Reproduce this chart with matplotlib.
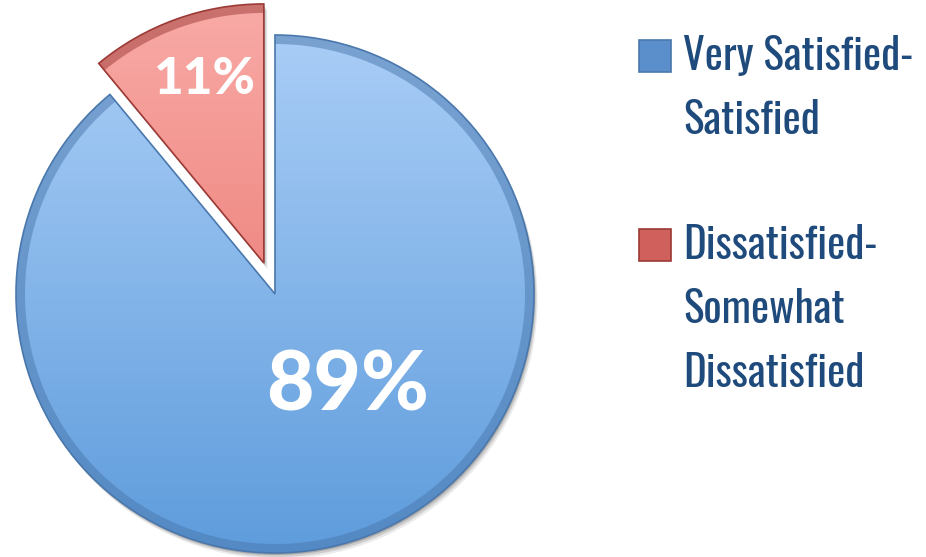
import numpy as np
import matplotlib.pyplot as plt
from matplotlib.colors import LinearSegmentedColormap
from matplotlib.patches import Wedge, Rectangle

labels = ['Very Satisfied-\nSatisfied', 'Dissatisfied-\nSomewhat\nDissatisfied']
values = [89, 11]
pct_labels = ['89%', '11%']

top_colors = ['#a9cdf6', '#f9aaa6']
bottom_colors = ['#5e9cdc', '#e66a64']
edge_colors = ['#4a78ad', '#9c3a36']
marker_colors = ['#5a8fcc', '#d0605b']
text_color = '#1f4a7c'

fig = plt.figure(figsize=(9.26, 5.57), dpi=100)
ax = fig.add_axes([0, 0, 1, 1])

cx, cy, r = 275, 263, 259
# explode is in data units here (pixels)
wedges, _ = ax.pie(values, startangle=90, counterclock=False, explode=[0, 33],
                   center=(cx, cy), radius=r, colors=bottom_colors,
                   wedgeprops=dict(edgecolor='none'), frame=True)
ax.set_xlim(0, 926)
ax.set_ylim(0, 557)
ax.set_aspect('equal')
ax.axis('off')

# soft shadow behind the slices
for w in wedges:
    for k, a in [(6, 0.08), (4, 0.12), (2, 0.18)]:
        s = Wedge((w.center[0] + k * 0.6, w.center[1] - k), w.r, w.theta1, w.theta2,
                  color='black', alpha=a, zorder=0.5, lw=0)
        ax.add_patch(s)

# vertical gradient fill, clipped to each slice
for w, c0, c1, ec in zip(wedges, top_colors, bottom_colors, edge_colors):
    cmap = LinearSegmentedColormap.from_list('g', [c1, c0])
    grad = np.linspace(0, 1, 256).reshape(-1, 1)
    x0, y0 = w.center[0] - w.r, w.center[1] - w.r
    im = ax.imshow(grad, cmap=cmap, origin='lower', aspect='auto',
                   extent=[x0, x0 + 2 * w.r, y0, y0 + 2 * w.r], zorder=2)
    im.set_clip_path(w)
    rim = Wedge(w.center, w.r, w.theta1, w.theta2, width=9, color=ec, alpha=0.5,
                lw=0, zorder=3)
    ax.add_patch(rim)
    w.set_facecolor('none')
    w.set_edgecolor(ec)
    w.set_linewidth(1.2)
    w.set_zorder(4)
ax.set_xlim(0, 926)
ax.set_ylim(0, 557)

num_font = ['Lato', 'DejaVu Sans']
ax.text(348, 557 - 387, pct_labels[0], color='white', fontsize=59, fontweight='black',
        family=num_font, ha='center', va='center', zorder=5)
ax.text(205, 557 - 80, pct_labels[1], color='white', fontsize=37, fontweight='black',
        family=num_font, ha='center', va='center', zorder=5)

# legend
leg_font = ['Oswald', 'DejaVu Sans']
legend_y = [557 - 56, 557 - 245]
for lab, yy, mc, ec in zip(labels, legend_y, marker_colors, edge_colors):
    ax.add_patch(Rectangle((639, yy - 16), 32, 32, facecolor=mc, edgecolor=ec, lw=1.2))
    ax.text(683, yy + 21, lab, color=text_color, fontsize=31, va='top', ha='left',
            family=leg_font, fontstretch='condensed', linespacing=1.6)

fig.savefig('out.png', dpi=100)
